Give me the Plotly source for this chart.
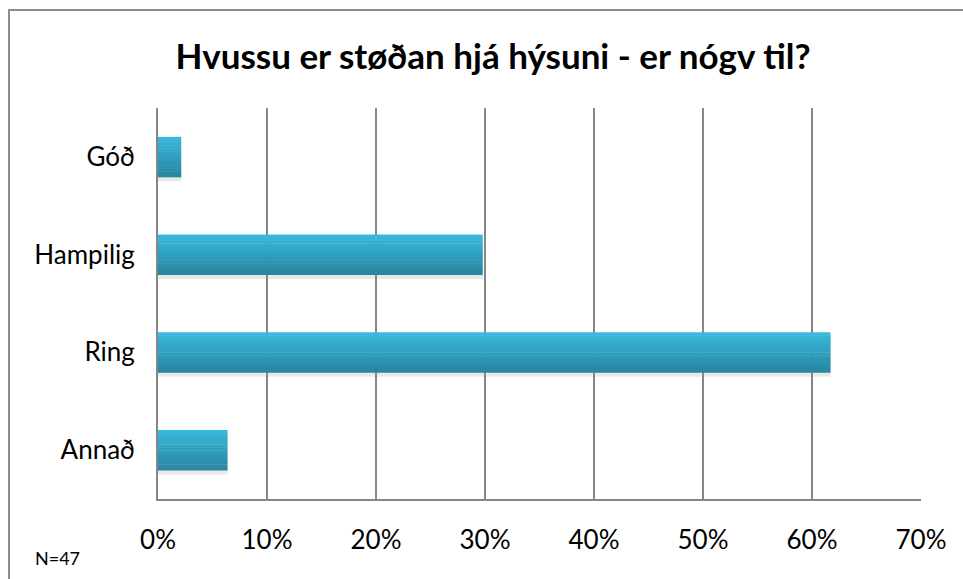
import plotly.graph_objects as go

categories = ["Góð", "Hampilig", "Ring", "Annað"]
values = [2.13, 29.79, 61.70, 6.38]  # percent, N=47
tick_vals = [0, 10, 20, 30, 40, 50, 60, 70]
tick_text = ["0%", "10%", "20%", "30%", "40%", "50%", "60%", "70%"]
title_text = "Hvussu er støðan hjá hýsuni - er nógv til?"
note_text = "N=47"

W, H = 963, 579
L, R, T, B = 158, 42, 108, 80
bar_w = 0.41
n_slices = 14
top_rgb = (56, 184, 218)
bot_rgb = (40, 134, 162)

fig = go.Figure()

# soft shadow
fig.add_trace(go.Bar(
    y=categories, x=values, orientation="h",
    width=bar_w, offset=-bar_w / 2 + 0.045,
    marker=dict(color="rgba(140,140,140,0.2)", line=dict(width=0)),
    hoverinfo="skip", showlegend=False,
))

for i in range(n_slices):
    t = i / (n_slices - 1)
    c = tuple(round(top_rgb[k] + (bot_rgb[k] - top_rgb[k]) * t) for k in range(3))
    sw = bar_w / n_slices
    fig.add_trace(go.Bar(
        y=categories, x=values, orientation="h",
        width=sw * 1.15, offset=-bar_w / 2 + i * sw,
        marker=dict(color="rgb(%d,%d,%d)" % c, line=dict(width=0)),
        hoverinfo="skip", showlegend=False,
    ))

fig.update_layout(
    width=W, height=H,
    margin=dict(l=L, r=R, t=T, b=B),
    paper_bgcolor="white", plot_bgcolor="white",
    barmode="overlay",
    font=dict(family="Lato, Open Sans, sans-serif", color="#000000"),
    title=dict(text="<b>%s</b>" % title_text, x=0.512, xanchor="center",
               y=1 - 57 / H, yanchor="middle",
               font=dict(size=35, color="#000000")),
    xaxis=dict(range=[0, 70], tickvals=tick_vals, ticktext=tick_text,
               showgrid=True, gridcolor="#868686", gridwidth=2,
               zeroline=False, showline=True, linecolor="#868686", linewidth=2,
               ticks="", tickfont=dict(size=26), ticklabelstandoff=17,
               mirror=False),
    yaxis=dict(autorange="reversed", showgrid=False, zeroline=False,
               showline=True, linecolor="#868686", linewidth=2,
               ticks="", tickfont=dict(size=26), ticklabelstandoff=16),
    shapes=[dict(type="rect", xref="paper", yref="paper",
                 x0=(9 - L) / (W - L - R), x1=1.2,
                 y0=-0.3, y1=1 + (T - 10) / (H - T - B),
                 line=dict(color="#8c8c8c", width=2), layer="below")],
    annotations=[dict(text=note_text, xref="paper", yref="paper",
                      x=(33 - L) / (W - L - R), xanchor="left",
                      y=-(558 - (H - B)) / (H - T - B), yanchor="middle",
                      showarrow=False, font=dict(size=18, color="#000000"))],
)

fig.write_html("out.html", config={"displayModeBar": False})
with open("out.html", encoding="utf-8") as f:
    html = f.read()
html = html.replace("<body>", '<body style="margin:0;padding:0;overflow:hidden">', 1)
with open("out.html", "w", encoding="utf-8") as f:
    f.write(html)
